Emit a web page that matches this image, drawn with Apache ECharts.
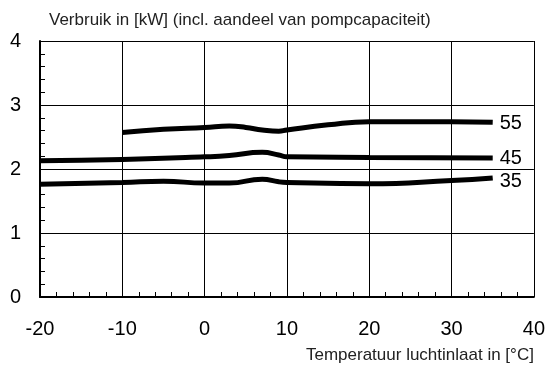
<!DOCTYPE html>
<html><head><meta charset="utf-8">
<script src="https://cdn.jsdelivr.net/npm/echarts@6/dist/echarts.min.js"></script>
<style>html,body{margin:0;padding:0;background:#fff}#c{width:548px;height:369px}</style>
</head><body><div id="c"></div>
<script>
var temps55 = [-10, -5, 0, 3, 5, 7, 9, 10, 15, 20, 25, 30, 35];
var vals55  = [2.57, 2.62, 2.65, 2.67, 2.65, 2.61, 2.59, 2.61, 2.69, 2.74, 2.74, 2.74, 2.73];
var temps45 = [-20, -10, 0, 3, 7, 9, 10, 20, 35];
var vals45  = [2.13, 2.15, 2.19, 2.21, 2.26, 2.22, 2.19, 2.18, 2.17];
var temps35 = [-20, -10, -5, 0, 3, 7, 9, 10, 20, 30, 35];
var vals35  = [1.76, 1.79, 1.81, 1.78, 1.78, 1.84, 1.80, 1.79, 1.77, 1.82, 1.86];
var seriesNames = ['55', '45', '35'];
var yTitle = 'Verbruik in [kW] (incl. aandeel van pompcapaciteit)';
var xTitle = 'Temperatuur luchtinlaat in [°C]';

function pairs(xs, ys){ return xs.map(function(x,i){ return [x, ys[i]]; }); }
var FONT = 'Liberation Sans, Arial, sans-serif';
function mk(name, xs, ys, dy){
  return {
    name: name, type: 'line', smooth: 0.5, showSymbol: false, symbol: 'none',
    data: pairs(xs, ys),
    lineStyle: {color: '#000', width: 5},
    endLabel: {show: true, formatter: name, color: '#000', fontSize: 20, fontFamily: FONT, distance: 7, offset: [0, dy]},
    z: 5
  };
}
var chart = echarts.init(document.getElementById('c'), null, {renderer: 'canvas'});
chart.setOption({
  animation: false,
  backgroundColor: '#fff',
  title: {
    text: yTitle, left: 44, top: 7,
    textStyle: {fontSize: 17, fontWeight: 'normal', color: '#222', fontFamily: FONT}
  },
  grid: {left: 40, right: 13, top: 41, bottom: 72, containLabel: false},
  xAxis: {
    type: 'value', min: -20, max: 40, interval: 10,
    name: xTitle, nameLocation: 'end', nameGap: 0,
    nameTextStyle: {align: 'right', verticalAlign: 'top', fontSize: 17, color: '#222', fontFamily: FONT, padding: [50, 0, 0, 0]},
    axisLine: {show: true, lineStyle: {color: '#000', width: 2}},
    axisTick: {show: true, inside: true, length: 5, lineStyle: {color: '#000'}},
    minorTick: {show: true, splitNumber: 5, length: 5, lineStyle: {color: '#000'}},
    axisLabel: {fontSize: 20, color: '#000', margin: 22, fontFamily: FONT},
    splitLine: {show: true, lineStyle: {color: '#000', width: 1}}
  },
  yAxis: {
    type: 'value', min: 0, max: 4, interval: 1,
    axisLine: {show: true, onZero: false, lineStyle: {color: '#000', width: 2}},
    axisTick: {show: true, inside: true, length: 5, lineStyle: {color: '#000'}},
    minorTick: {show: true, splitNumber: 5, length: 5, lineStyle: {color: '#000'}},
    axisLabel: {fontSize: 20, color: '#000', margin: 19, fontFamily: FONT},
    splitLine: {show: true, lineStyle: {color: '#000', width: 1}}
  },
  series: [
    mk(seriesNames[0], temps55, vals55, 1),
    mk(seriesNames[1], temps45, vals45, 0),
    mk(seriesNames[2], temps35, vals35, 4)
  ]
});
</script></body></html>
